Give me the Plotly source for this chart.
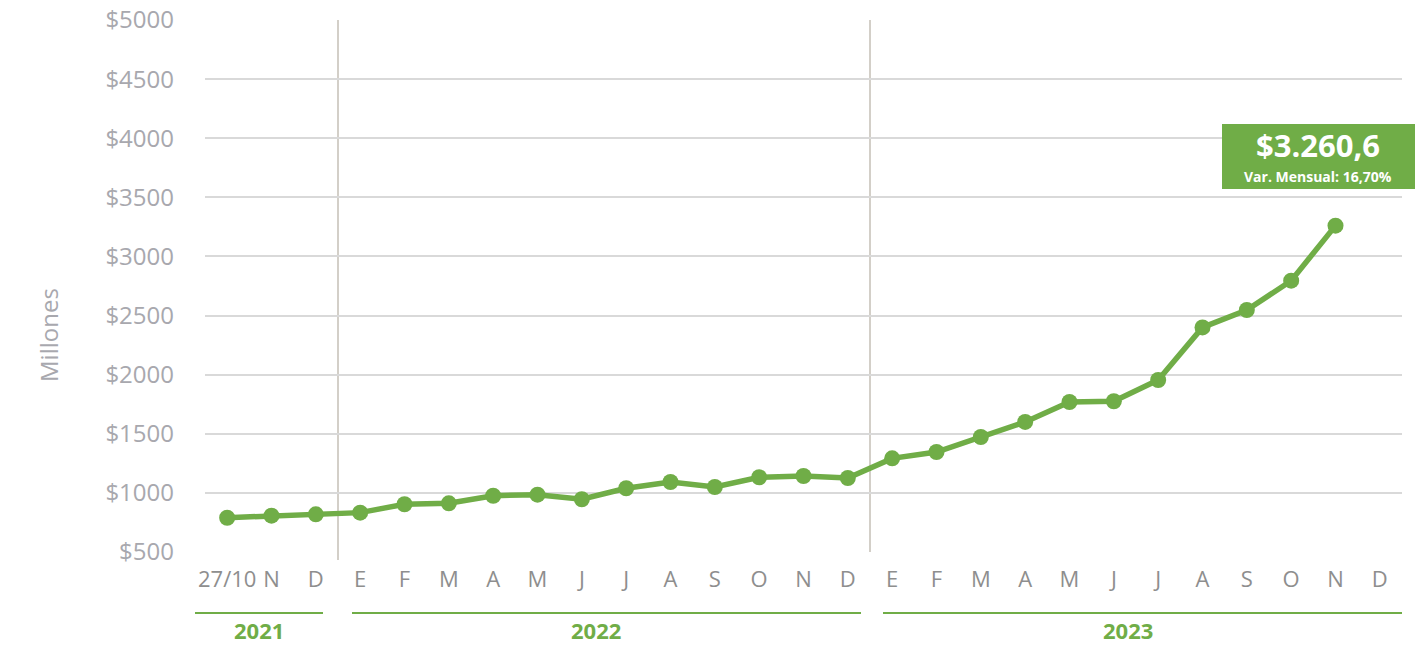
import plotly.graph_objects as go

# ---- data ----
tick_labels = ["27/10", "N", "D",
               "E", "F", "M", "A", "M", "J", "J", "A", "S", "O", "N", "D",
               "E", "F", "M", "A", "M", "J", "J", "A", "S", "O", "N", "D"]
values = [790, 807, 819,
          833, 904, 912, 976, 985, 946, 1039, 1092, 1050, 1132, 1143, 1126,
          1292, 1346, 1473, 1600, 1769, 1775, 1955, 2400, 2547, 2795, 3260.6, None]
years = ["2021", "2022", "2023"]
year_start_idx = [0, 3, 15]
year_end_idx = [2, 14, 26]
y_ticks = [500, 1000, 1500, 2000, 2500, 3000, 3500, 4000, 4500, 5000]
last_value_label = "$3.260,6"
last_var_label = "Var. Mensual: 16,70%"

GREEN = "#70AD47"
FONT = "Open Sans"

x_idx = list(range(len(tick_labels)))

fig = go.Figure()
fig.add_trace(go.Scatter(
    x=x_idx, y=values, mode="lines+markers",
    line=dict(color=GREEN, width=5.5),
    marker=dict(color=GREEN, size=16),
    connectgaps=False, hoverinfo="x+y", showlegend=False,
))

# plot area in pixels
L, R, T, B = 205, 14, 20, 93
W, H = 1416, 645
pw = W - L - R
ph = H - T - B

def px_x(p):
    return (p - L) / pw

def px_y(p):
    return (H - B - p) / ph

shapes = []
# year separators between D and E
for i, s in enumerate(year_start_idx[1:]):
    shapes.append(dict(type="line", xref="x", yref="paper",
                       x0=s - 0.5, x1=s - 0.5, y0=-0.015 if i == 0 else 0, y1=1,
                       line=dict(color="#d3cfc8", width=2), layer="below"))

# year underline bars and labels
annotations = []
bar_pix = [(195, 323), (352, 861), (883, 1402)]
label_pix = [259, 596, 1128]
for yr, (a, b), lx in zip(years, bar_pix, label_pix):
    shapes.append(dict(type="line", xref="paper", yref="paper",
                       x0=px_x(a), x1=px_x(b), y0=px_y(613), y1=px_y(613),
                       line=dict(color=GREEN, width=2)))
    annotations.append(dict(xref="paper", yref="paper",
                            x=px_x(lx), y=px_y(630),
                            text=f"<b>{yr}</b>", showarrow=False,
                            font=dict(family=FONT, size=22, color=GREEN),
                            xanchor="center", yanchor="middle", borderpad=0))

# value box
shapes.append(dict(type="rect", xref="paper", yref="paper",
                   x0=px_x(1222), x1=px_x(1415), y0=px_y(189), y1=px_y(124),
                   fillcolor=GREEN, line=dict(width=0)))
annotations.append(dict(xref="paper", yref="paper", x=px_x(1318), y=px_y(145),
                        text=f"<b>{last_value_label}</b>", showarrow=False,
                        font=dict(family=FONT, size=31, color="white"),
                        xanchor="center", yanchor="middle", borderpad=0))
annotations.append(dict(xref="paper", yref="paper", x=px_x(1318), y=px_y(176),
                        text=f"<b>{last_var_label}</b>", showarrow=False,
                        font=dict(family=FONT, size=14, color="white"),
                        xanchor="center", yanchor="middle", borderpad=0))

# y axis title
annotations.append(dict(xref="paper", yref="paper", x=px_x(48), y=px_y(335),
                        text="Millones", showarrow=False, textangle=-90,
                        font=dict(family=FONT, size=24, color="#a8a8ae"),
                        xanchor="center", yanchor="middle"))

fig.update_layout(
    width=W, height=H,
    margin=dict(l=L, r=R, t=T, b=B),
    plot_bgcolor="white", paper_bgcolor="white",
    font=dict(family=FONT),
    shapes=shapes, annotations=annotations,
    xaxis=dict(
        range=[-0.5, len(tick_labels) - 0.5],
        tickmode="array", tickvals=x_idx, ticktext=tick_labels,
        showgrid=False, zeroline=False, showline=False, ticks="",
        tickfont=dict(family=FONT, size=22, color="#8e8e8e"),
        ticklabelstandoff=12, automargin=False,
    ),
    yaxis=dict(
        range=[500, 5000], tickmode="array", tickvals=y_ticks,
        ticktext=[f"${v}" for v in y_ticks],
        showgrid=True, gridcolor="#d9d9d9", gridwidth=1.5,
        zeroline=False, showline=False, ticks="",
        tickfont=dict(family=FONT, size=24, color="#a8a8ae"),
        ticklabelstandoff=30, automargin=False,
    ),
)

fig.write_html("out.html", config={"displayModeBar": False},
               post_script="document.body.style.margin='0';")
